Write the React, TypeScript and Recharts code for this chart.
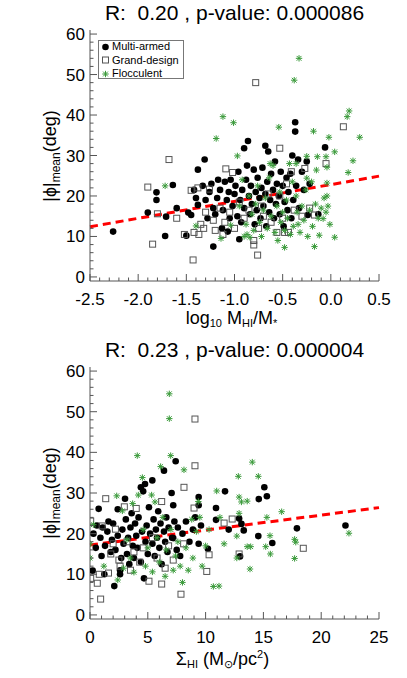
import React from 'react';
import { ScatterChart, Scatter, XAxis, YAxis, ReferenceLine } from 'recharts';

const FONT = '"Liberation Sans", Arial, Helvetica, sans-serif';

// ---------- Panel 1: log10 MHI/M* ----------
const titleTop = 'R:  0.20 , p-value: 0.000086';
const multiTop: number[][] = [
  [-2.26, 11.2], [-1.9, 15.9], [-1.81, 20.9], [-1.81, 19.0], [-1.72, 10.1], [-1.71, 14.9], [-1.64, 22.7],
  [-1.6, 17.0], [-1.5, 10.2], [-1.48, 15.9], [-1.45, 15.3], [-1.42, 21.5], [-1.4, 19.5], [-1.38, 17.8],
  [-1.38, 26.5], [-1.33, 22.5], [-1.31, 29.0], [-1.3, 19.0], [-1.28, 14.5], [-1.26, 21.0], [-1.24, 23.0],
  [-1.22, 7.5], [-1.22, 17.0], [-1.2, 15.5], [-1.18, 19.5], [-1.17, 24.0], [-1.15, 21.5], [-1.13, 12.0],
  [-1.12, 16.5], [-1.1, 23.5], [-1.08, 19.0], [-1.07, 11.2], [-1.06, 21.0], [-1.05, 14.5], [-1.04, 24.0],
  [-1.02, 17.5], [-1.0, 20.5], [-0.99, 22.5], [-0.97, 15.0], [-0.96, 26.0], [-0.95, 9.3], [-0.94, 19.0],
  [-0.93, 13.5], [-0.92, 21.5], [-0.9, 31.8], [-0.9, 17.0], [-0.88, 24.0], [-0.87, 27.5], [-0.86, 33.6],
  [-0.85, 20.0], [-0.84, 15.5], [-0.83, 22.5], [-0.82, 18.0], [-0.8, 26.5], [-0.79, 13.0], [-0.78, 21.0],
  [-0.77, 16.5], [-0.76, 24.5], [-0.74, 19.5], [-0.73, 14.5], [-0.72, 22.0], [-0.71, 27.0], [-0.7, 17.5],
  [-0.68, 32.4], [-0.68, 20.5], [-0.67, 12.5], [-0.66, 23.5], [-0.65, 31.0], [-0.64, 16.0], [-0.63, 19.0],
  [-0.62, 25.5], [-0.6, 21.5], [-0.59, 14.5], [-0.58, 28.5], [-0.57, 18.0], [-0.56, 23.0], [-0.54, 20.0],
  [-0.53, 15.5], [-0.52, 26.0], [-0.5, 22.5], [-0.49, 12.5], [-0.48, 18.5], [-0.46, 24.5], [-0.45, 16.5],
  [-0.44, 21.0], [-0.42, 25.5], [-0.41, 14.5], [-0.4, 30.0], [-0.39, 19.0], [-0.37, 38.2], [-0.37, 35.9],
  [-0.36, 22.5], [-0.34, 29.0], [-0.33, 17.0], [-0.3, 26.0], [-0.28, 21.5], [-0.25, 28.5], [-0.24, 15.3],
  [-0.22, 23.0], [-0.13, 15.5], [-0.06, 32.0],
];
const grandTop: number[][] = [
  [-1.9, 22.2], [-1.85, 8.1], [-1.8, 15.6], [-1.68, 29.0], [-1.6, 14.5], [-1.52, 10.5], [-1.45, 21.4],
  [-1.43, 4.2], [-1.42, 11.0], [-1.38, 22.0], [-1.37, 10.5], [-1.35, 13.0], [-1.32, 12.0], [-1.3, 16.0],
  [-1.26, 21.7], [-1.22, 14.0], [-1.2, 11.5], [-1.15, 17.0], [-1.12, 10.5], [-1.1, 13.5], [-1.09, 26.7],
  [-1.05, 16.0], [-1.02, 25.8], [-1.0, 12.0], [-0.95, 18.5], [-0.9, 14.5], [-0.85, 16.5], [-0.8, 9.0],
  [-0.8, 7.9], [-0.78, 48.0], [-0.76, 5.4], [-0.75, 12.0], [-0.72, 17.5], [-0.7, 15.0], [-0.65, 20.5],
  [-0.62, 13.5], [-0.56, 11.0], [-0.53, 31.8], [-0.53, 20.0], [-0.5, 14.5], [-0.48, 11.0], [-0.46, 23.0],
  [-0.44, 11.0], [-0.41, 26.0], [-0.38, 16.5], [-0.3, 15.0], [-0.27, 26.8], [-0.22, 17.0], [-0.17, 15.3],
  [-0.05, 28.0], [0.13, 37.1],
];
const floccTop: number[][] = [
  [-1.72, 22.5], [-1.4, 12.6], [-1.19, 34.2], [-1.14, 9.5], [-1.12, 39.6], [-1.04, 12.8], [-1.01, 38.1],
  [-0.97, 29.9], [-0.95, 17.5], [-0.92, 24.0], [-0.9, 10.0], [-0.88, 13.0], [-0.87, 10.5], [-0.85, 20.0],
  [-0.84, 9.8], [-0.82, 15.5], [-0.8, 11.5], [-0.78, 18.0], [-0.76, 22.5], [-0.74, 13.5], [-0.72, 10.0],
  [-0.7, 16.5], [-0.68, 19.5], [-0.66, 12.0], [-0.64, 24.5], [-0.63, 28.0], [-0.62, 15.0], [-0.6, 27.5],
  [-0.58, 11.0], [-0.56, 17.5], [-0.55, 9.0], [-0.54, 37.0], [-0.53, 21.0], [-0.52, 13.5], [-0.5, 16.0],
  [-0.48, 7.3], [-0.48, 11.5], [-0.46, 19.0], [-0.45, 14.5], [-0.43, 28.0], [-0.42, 10.5], [-0.4, 23.5],
  [-0.39, 12.5], [-0.38, 48.6], [-0.36, 28.0], [-0.36, 20.0], [-0.35, 16.0], [-0.34, 13.0], [-0.33, 54.0],
  [-0.32, 11.0], [-0.3, 17.5], [-0.28, 14.0], [-0.26, 21.5], [-0.25, 29.8], [-0.25, 24.4], [-0.24, 10.0],
  [-0.22, 16.5], [-0.2, 23.5], [-0.19, 12.5], [-0.18, 36.0], [-0.17, 7.5], [-0.16, 18.0], [-0.15, 26.4],
  [-0.14, 29.7], [-0.13, 14.5], [-0.12, 10.3], [-0.1, 17.0], [-0.08, 14.4], [-0.07, 19.5], [-0.05, 29.7],
  [-0.05, 16.0], [-0.04, 27.1], [-0.04, 23.2], [-0.04, 20.0], [-0.03, 17.5], [-0.02, 34.5], [-0.01, 13.0],
  [0.04, 30.9], [0.04, 9.8], [0.17, 39.6], [0.18, 25.8], [0.19, 41.0], [0.23, 28.7], [0.3, 34.5],
];
const fitTop: number[][] = [[-2.5, 12.4], [0.5, 24.9]];
const xDomainTop: [number, number] = [-2.5, 0.5];
const xMajorTop = [-2.5, -2.0, -1.5, -1.0, -0.5, 0.0, 0.5];
const xMinorTop = Array.from({ length: 31 }, (_, i) => Math.round((-2.5 + i * 0.1) * 10) / 10);

// ---------- Panel 2: Sigma HI ----------
const titleBottom = 'R:  0.23 , p-value: 0.000004';
const multiBottom: number[][] = [
  [0.23, 10.9], [0.3, 20.0], [0.5, 16.5], [0.6, 22.0], [0.75, 26.1], [0.9, 19.0], [1.0, 14.5], [1.1, 21.5],
  [1.24, 10.0], [1.3, 17.0], [1.5, 20.5], [1.6, 23.0], [1.8, 15.5], [1.9, 18.5], [2.0, 22.5], [2.1, 7.1],
  [2.2, 16.0], [2.4, 26.0], [2.4, 19.5], [2.6, 10.0], [2.6, 11.0], [2.7, 14.0], [2.8, 21.0], [2.9, 17.5],
  [3.03, 28.6], [3.1, 23.5], [3.2, 15.0], [3.3, 19.0], [3.4, 12.5], [3.5, 21.5], [3.6, 25.0], [3.7, 17.0],
  [3.8, 14.0], [3.9, 22.5], [4.0, 19.5], [4.1, 16.5], [4.2, 24.0], [4.4, 31.4], [4.4, 13.0], [4.5, 20.5],
  [4.6, 30.4], [4.67, 9.0], [4.76, 32.2], [4.8, 18.0], [4.9, 22.0], [5.0, 15.0], [5.1, 26.5], [5.2, 20.0],
  [5.39, 33.1], [5.4, 17.5], [5.5, 23.5], [5.6, 14.5], [5.7, 21.0], [5.8, 19.0], [5.9, 25.5], [6.0, 16.5],
  [6.1, 22.5], [6.2, 12.5], [6.4, 35.5], [6.4, 20.5], [6.5, 18.0], [6.6, 24.0], [6.7, 15.5], [6.8, 21.5],
  [7.06, 30.0], [7.1, 19.0], [7.2, 27.0], [7.2, 18.9], [7.3, 23.0], [7.41, 37.8], [7.5, 16.0], [7.6, 21.5],
  [7.8, 14.5], [8.0, 20.0], [8.3, 23.0], [8.6, 18.0], [8.9, 21.0], [9.1, 24.0], [9.4, 29.0], [9.4, 27.0],
  [9.4, 17.5], [9.6, 22.0], [10.2, 16.3], [10.9, 26.3], [10.9, 23.4], [11.68, 30.4], [12.0, 21.0],
  [12.98, 14.4], [12.9, 23.7], [13.1, 22.4], [13.3, 20.8], [14.56, 19.4], [14.6, 28.5], [15.08, 31.4],
  [15.3, 29.2], [15.77, 17.7], [17.9, 21.3], [22.1, 22.0],
];
const grandBottom: number[][] = [
  [0.06, 9.0], [0.06, 23.1], [0.63, 7.8], [0.8, 10.0], [0.92, 3.9], [1.05, 21.9], [1.36, 28.6], [1.6, 10.3],
  [1.8, 15.0], [2.0, 17.5], [2.2, 21.1], [2.5, 13.5], [2.6, 12.0], [2.97, 26.6], [3.2, 18.0], [3.5, 11.0],
  [3.8, 15.5], [4.0, 26.2], [4.3, 13.0], [4.6, 16.5], [5.1, 8.3], [5.4, 19.0], [5.8, 14.0], [6.2, 7.6],
  [6.2, 27.9], [6.5, 11.5], [6.8, 17.0], [7.2, 13.5], [7.87, 5.1], [8.1, 17.5], [8.13, 31.4], [9.0, 26.3],
  [9.08, 36.7], [9.08, 48.2], [10.1, 10.7], [10.3, 14.8], [11.6, 22.6], [12.3, 23.6], [12.9, 15.0],
  [18.45, 16.4],
];
const floccBottom: number[][] = [
  [0.0, 17.5], [0.0, 14.0], [0.29, 22.2], [1.2, 12.0], [2.31, 29.3], [2.4, 8.6], [2.8, 25.6], [2.9, 11.5],
  [3.2, 18.5], [3.5, 14.0], [3.69, 27.4], [3.8, 10.5], [4.09, 39.2], [4.18, 29.5], [4.53, 33.8], [4.6, 21.0],
  [4.8, 12.0], [5.0, 16.5], [5.33, 29.5], [5.4, 10.6], [5.62, 27.8], [5.8, 19.0], [6.0, 13.0], [6.11, 36.5],
  [6.3, 24.0], [6.5, 9.5], [6.6, 16.0], [6.86, 54.4], [6.86, 48.3], [6.98, 39.2], [7.0, 21.0], [7.2, 11.0],
  [7.4, 14.5], [7.6, 18.0], [7.8, 12.0], [8.0, 8.0], [8.13, 35.7], [8.3, 16.5], [8.5, 11.0], [8.8, 23.5],
  [8.9, 14.0], [9.2, 20.5], [9.37, 27.9], [9.5, 24.0], [9.7, 12.0], [10.0, 17.0], [10.3, 21.0], [10.67, 7.0],
  [10.96, 30.5], [11.16, 7.1], [11.24, 24.0], [11.6, 17.5], [12.7, 19.4], [12.7, 14.0], [12.83, 34.1],
  [12.9, 29.0], [12.9, 25.0], [13.1, 27.8], [13.6, 28.0], [13.6, 16.8], [13.84, 11.3], [13.9, 16.8],
  [14.04, 37.6], [14.56, 34.1], [15.2, 16.8], [15.3, 24.0], [15.57, 19.5], [15.6, 15.0], [16.58, 25.4],
  [17.7, 13.9], [17.7, 18.6], [17.8, 17.9], [22.4, 20.1],
];
const fitBottom: number[][] = [[0, 17.2], [25, 26.4]];
const xDomainBottom: [number, number] = [0, 25];
const xMajorBottom = [0, 5, 10, 15, 20, 25];
const xMinorBottom = Array.from({ length: 26 }, (_, i) => i);

// ---------- Shared y axis ----------
const yDomain: [number, number] = [-1, 61];
const yMajor = [0, 10, 20, 30, 40, 50, 60];
const yMinor = Array.from({ length: 31 }, (_, i) => i * 2);

const legendNames = ['Multi-armed', 'Grand-design', 'Flocculent'];

const TICK_C = '#555';
const FRAME_C = '#555';
const GREEN = '#3a9a3a';

const toPts = (arr: number[][]) => arr.map(([x, y]) => ({ x, y }));
const isIn = (list: number[], v: number) => list.some((m) => Math.abs(m - v) < 1e-6);
const fmtX1 = (v: number) => v.toFixed(1);
const fmtInt = (v: number) => String(Math.round(v));

const DotShape = (p: any) => <circle cx={p.cx} cy={p.cy} r={3.3} fill="#000" />;
const SquareShape = (p: any) => (
  <rect x={p.cx - 3} y={p.cy - 3} width={6} height={6} fill="none" stroke="#555" strokeWidth={1} />
);
const StarShape = (p: any) => {
  const s = 3.2;
  const d = 2.4;
  return (
    <g stroke={GREEN} strokeWidth={1}>
      <line x1={p.cx - s} y1={p.cy} x2={p.cx + s} y2={p.cy} />
      <line x1={p.cx} y1={p.cy - s} x2={p.cx} y2={p.cy + s} />
      <line x1={p.cx - d} y1={p.cy - d} x2={p.cx + d} y2={p.cy + d} />
      <line x1={p.cx - d} y1={p.cy + d} x2={p.cx + d} y2={p.cy - d} />
    </g>
  );
};

const makeTick = (side: 'left' | 'right' | 'top' | 'bottom', majors: number[], fmt: (v: number) => string) => (props: any) => {
  const { x, y, payload } = props;
  const v = payload.value;
  const major = isIn(majors, v);
  const len = major ? 7 : 3.5;
  let line;
  if (side === 'left') line = <line x1={x} y1={y} x2={x + len} y2={y} stroke={TICK_C} />;
  else if (side === 'right') line = <line x1={x} y1={y} x2={x - len} y2={y} stroke={TICK_C} />;
  else if (side === 'top') line = <line x1={x} y1={y} x2={x} y2={y + len} stroke={TICK_C} />;
  else line = <line x1={x} y1={y} x2={x} y2={y - len} stroke={TICK_C} />;
  let label = null;
  if (major && side === 'left')
    label = (
      <text x={x - 5} y={y + 6} textAnchor="end" fontSize={17} fontFamily={FONT} fill="#000">
        {fmt(v)}
      </text>
    );
  if (major && side === 'bottom')
    label = (
      <text x={x} y={y + 24} textAnchor="middle" fontSize={17} fontFamily={FONT} fill="#000">
        {fmt(v)}
      </text>
    );
  return (
    <g>
      {line}
      {label}
    </g>
  );
};

type PanelProps = {
  top: number;
  marginTop: number;
  marginBottom: number;
  title: string;
  multi: number[][];
  grand: number[][];
  flocc: number[][];
  fit: number[][];
  xDomain: [number, number];
  xMajor: number[];
  xMinor: number[];
  fmtX: (v: number) => string;
  xLabel: React.ReactNode;
  xLabelShift: number;
  xLabelDrop: number;
  showLegend: boolean;
};

const W = 407;
const H = 339;
const subStyle: React.CSSProperties = { fontSize: 11, lineHeight: 0, verticalAlign: '-0.3em' };
const supStyle: React.CSSProperties = { fontSize: 11, lineHeight: 0, verticalAlign: '0.6em' };

const Panel = (pp: PanelProps) => {
  const plotTop = pp.top + pp.marginTop;
  const plotBottom = pp.top + H - pp.marginBottom - 30;
  const plotMid = (plotTop + plotBottom) / 2;
  return (
    <>
      <div style={{ position: 'absolute', left: 0, top: pp.top, width: W, height: H }}>
        <ScatterChart width={W} height={H} margin={{ top: pp.marginTop, right: 28, bottom: pp.marginBottom, left: 30 }}>
          <XAxis
            xAxisId="b"
            dataKey="x"
            type="number"
            domain={pp.xDomain}
            allowDataOverflow
            ticks={pp.xMinor}
            interval={0}
            height={30}
            tickSize={0}
            tickMargin={0}
            tickLine={false}
            axisLine={{ stroke: FRAME_C }}
            tick={makeTick('bottom', pp.xMajor, pp.fmtX)}
          />
          <XAxis
            xAxisId="t"
            orientation="top"
            dataKey="x"
            type="number"
            domain={pp.xDomain}
            allowDataOverflow
            ticks={pp.xMinor}
            interval={0}
            height={0}
            tickSize={0}
            tickMargin={0}
            tickLine={false}
            axisLine={{ stroke: FRAME_C }}
            tick={makeTick('top', pp.xMajor, pp.fmtX)}
          />
          <YAxis
            yAxisId="l"
            dataKey="y"
            type="number"
            domain={yDomain}
            allowDataOverflow
            ticks={yMinor}
            interval={0}
            width={60}
            tickSize={0}
            tickMargin={0}
            tickLine={false}
            axisLine={{ stroke: FRAME_C }}
            tick={makeTick('left', yMajor, fmtInt)}
          />
          <YAxis
            yAxisId="r"
            orientation="right"
            dataKey="y"
            type="number"
            domain={yDomain}
            allowDataOverflow
            ticks={yMinor}
            interval={0}
            width={0}
            tickSize={0}
            tickMargin={0}
            tickLine={false}
            axisLine={{ stroke: FRAME_C }}
            tick={makeTick('right', yMajor, fmtInt)}
          />
          <Scatter xAxisId="b" yAxisId="l" name={legendNames[0]} data={toPts(pp.multi)} shape={DotShape} isAnimationActive={false} />
          <Scatter xAxisId="b" yAxisId="l" name={legendNames[1]} data={toPts(pp.grand)} shape={SquareShape} isAnimationActive={false} />
          <Scatter xAxisId="b" yAxisId="l" name={legendNames[2]} data={toPts(pp.flocc)} shape={StarShape} isAnimationActive={false} />
          <ReferenceLine
            xAxisId="b"
            yAxisId="l"
            segment={[
              { x: pp.fit[0][0], y: pp.fit[0][1] },
              { x: pp.fit[1][0], y: pp.fit[1][1] },
            ]}
            stroke="#ff0000"
            strokeWidth={3}
            strokeDasharray="8 5"
            ifOverflow="visible"
          />
        </ScatterChart>
      </div>
      <div
        style={{
          position: 'absolute',
          left: 90,
          width: 289,
          top: plotTop - 28,
          fontFamily: FONT,
          fontSize: 21,
          lineHeight: '21px',
          textAlign: 'center',
          whiteSpace: 'pre',
          color: '#000',
        }}
      >
        {pp.title}
      </div>
      <div
        style={{
          position: 'absolute',
          left: 90 + pp.xLabelShift,
          width: 289,
          top: plotBottom + 28 + pp.xLabelDrop,
          fontFamily: FONT,
          fontSize: 18,
          lineHeight: '18px',
          textAlign: 'center',
          whiteSpace: 'nowrap',
          color: '#000',
        }}
      >
        {pp.xLabel}
      </div>
      <div
        style={{
          position: 'absolute',
          left: 50,
          top: plotMid,
          transform: 'translate(-50%, -50%) rotate(-90deg)',
          fontFamily: FONT,
          fontSize: 18,
          lineHeight: '20px',
          whiteSpace: 'nowrap',
          color: '#000',
        }}
      >
        |ϕ|<span style={{ ...subStyle, fontSize: 12 }}>mean</span>(deg)
      </div>
      {pp.showLegend && (
        <div
          style={{
            position: 'absolute',
            left: 98,
            top: plotTop + 10,
            width: 86,
            height: 39,
            border: '1px solid #777',
            background: '#fff',
            fontFamily: FONT,
            fontSize: 11,
            lineHeight: '13.5px',
            paddingTop: 0,
            boxSizing: 'border-box',
          }}
        >
          {legendNames.map((n, i) => (
            <div key={n} style={{ display: 'flex', alignItems: 'center', height: 13.5, marginTop: i === 0 ? -1 : 0 }}>
              <svg width={11} height={10} style={{ marginLeft: 1, marginRight: 0 }}>
                {i === 0 && <DotShape cx={5.5} cy={5} />}
                {i === 1 && <SquareShape cx={5.5} cy={5} />}
                {i === 2 && <StarShape cx={5.5} cy={5} />}
              </svg>
              <span style={{ marginLeft: 1 }}>{n}</span>
            </div>
          ))}
        </div>
      )}
    </>
  );
};

export default function App() {
  return (
    <div style={{ position: 'absolute', left: 0, top: 0, width: W, height: 678, background: '#fff', overflow: 'hidden' }}>
      <Panel
        top={0}
        marginTop={30}
        marginBottom={28}
        title={titleTop}
        multi={multiTop}
        grand={grandTop}
        flocc={floccTop}
        fit={fitTop}
        xDomain={xDomainTop}
        xMajor={xMajorTop}
        xMinor={xMinorTop}
        fmtX={fmtX1}
        showLegend={true}
        xLabelShift={-3}
        xLabelDrop={0}
        xLabel={
          <span>
            log<span style={subStyle}>10</span> M<span style={subStyle}>HI</span>/M<span style={subStyle}>*</span>
          </span>
        }
      />
      <Panel
        top={339}
        marginTop={28}
        marginBottom={29}
        title={titleBottom}
        multi={multiBottom}
        grand={grandBottom}
        flocc={floccBottom}
        fit={fitBottom}
        xDomain={xDomainBottom}
        xMajor={xMajorBottom}
        xMinor={xMinorBottom}
        fmtX={fmtInt}
        showLegend={false}
        xLabelShift={-12}
        xLabelDrop={3}
        xLabel={
          <span>
            Σ<span style={subStyle}>HI</span> (M<span style={subStyle}>⊙</span>/pc<span style={supStyle}>2</span>)
          </span>
        }
      />
    </div>
  );
}
